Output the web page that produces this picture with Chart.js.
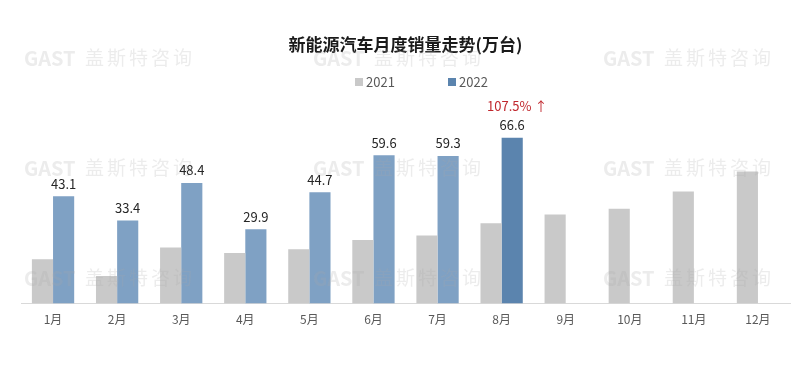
<!DOCTYPE html>
<html>
<head>
<meta charset="utf-8">
<script src="https://cdn.jsdelivr.net/npm/chart.js@4/dist/chart.umd.min.js"></script>
<style>
  html, body { margin: 0; padding: 0; background: #fff; }
  #wrap { width: 800px; height: 365px; position: relative; }
</style>
</head>
<body>
<div id="wrap"><canvas id="salesChart"></canvas></div>
<script>
// 月份与销量数据（万台）
const months = ['1月', '2月', '3月', '4月', '5月', '6月', '7月', '8月', '9月', '10月', '11月', '12月'];
const sales2021 = [17.8, 11.1, 22.5, 20.3, 21.8, 25.5, 27.3, 32.3, 35.8, 38.1, 45.0, 53.0];
const sales2022 = [43.1, 33.4, 48.4, 29.9, 44.7, 59.6, 59.3, 66.6, null, null, null, null];
const seriesNames = ['2021', '2022'];
const growthNote = '107.5%';
const growthIndex = 7;
const watermark = ['GAST', '盖', '斯', '特', '咨', '询'];

const FONT = '"Noto Sans CJK SC", "Noto Sans", sans-serif';
const gray = '#C9C9C9';
const blue = '#7FA1C4';
const blueDark = '#5B84AE';

// 2022 的 8 月柱子颜色更深
const colors2022 = sales2022.map((v, i) => i === growthIndex ? blueDark : blue);

// 水印 + 图例 + 数据标签
const decorPlugin = {
    id: 'decor',
    afterDatasetsDraw(chart) {
        const ctx = chart.ctx;
        ctx.save();

        // 水印
        const xs = [24, 313, 603];
        const ys = [58, 168, 278];
        ctx.fillStyle = 'rgba(170, 170, 170, 0.22)';
        ctx.textBaseline = 'middle';
        ctx.textAlign = 'left';
        ys.forEach(y => {
            xs.forEach(x => {
                ctx.font = 'bold 20px ' + FONT;
                ctx.fillText(watermark[0], x, y);
                ctx.font = '19px ' + FONT;
                for (let i = 1; i < watermark.length; i++) {
                    ctx.fillText(watermark[i], x + 61 + (i - 1) * 22, y);
                }
            });
        });

        // 图例
        const legendY = 82;
        const legend = [
            { x: 355, color: gray, text: seriesNames[0] },
            { x: 448, color: blueDark, text: seriesNames[1] }
        ];
        ctx.font = '13px ' + FONT;
        legend.forEach(item => {
            ctx.fillStyle = item.color;
            ctx.fillRect(item.x, legendY - 4, 8, 8);
            ctx.fillStyle = '#595959';
            ctx.fillText(item.text, item.x + 11, legendY);
        });

        // 2022 数据标签
        const meta = chart.getDatasetMeta(1);
        ctx.textAlign = 'center';
        ctx.textBaseline = 'bottom';
        ctx.font = '13px ' + FONT;
        meta.data.forEach((bar, i) => {
            const v = sales2022[i];
            if (v === null) return;
            ctx.fillStyle = '#262626';
            ctx.fillText(v.toFixed(1), bar.x, bar.y - 6);
            if (i === growthIndex) {
                ctx.fillStyle = '#C0272D';
                ctx.fillText(growthNote + ' ↑', bar.x + 5, bar.y - 25);
            }
        });
        ctx.restore();
    }
};

new Chart(document.getElementById('salesChart'), {
    type: 'bar',
    data: {
        labels: months,
        datasets: [
            {
                label: seriesNames[0],
                data: sales2021,
                backgroundColor: gray,
                barPercentage: 1,
                categoryPercentage: 0.66
            },
            {
                label: seriesNames[1],
                data: sales2022,
                backgroundColor: colors2022,
                barPercentage: 1,
                categoryPercentage: 0.66
            }
        ]
    },
    options: {
        responsive: true,
        maintainAspectRatio: false,
        animation: false,
        layout: { padding: { left: 21, right: 10, bottom: 29, top: 0 } },
        plugins: {
            legend: { display: false },
            tooltip: { enabled: false },
            title: {
                display: true,
                text: '新能源汽车月度销量走势(万台)',
                color: '#1a1a1a',
                font: { family: FONT, size: 17, weight: 'bold' },
                padding: { top: 34, bottom: 40 }
            }
        },
        scales: {
            x: {
                grid: { display: false, drawTicks: false },
                border: { display: true, color: '#D9D9D9', width: 1 },
                ticks: { color: '#595959', font: { family: FONT, size: 12 }, padding: 9 }
            },
            y: {
                display: false,
                min: 0,
                max: 84
            }
        }
    },
    plugins: [decorPlugin]
});
</script>
</body>
</html>
